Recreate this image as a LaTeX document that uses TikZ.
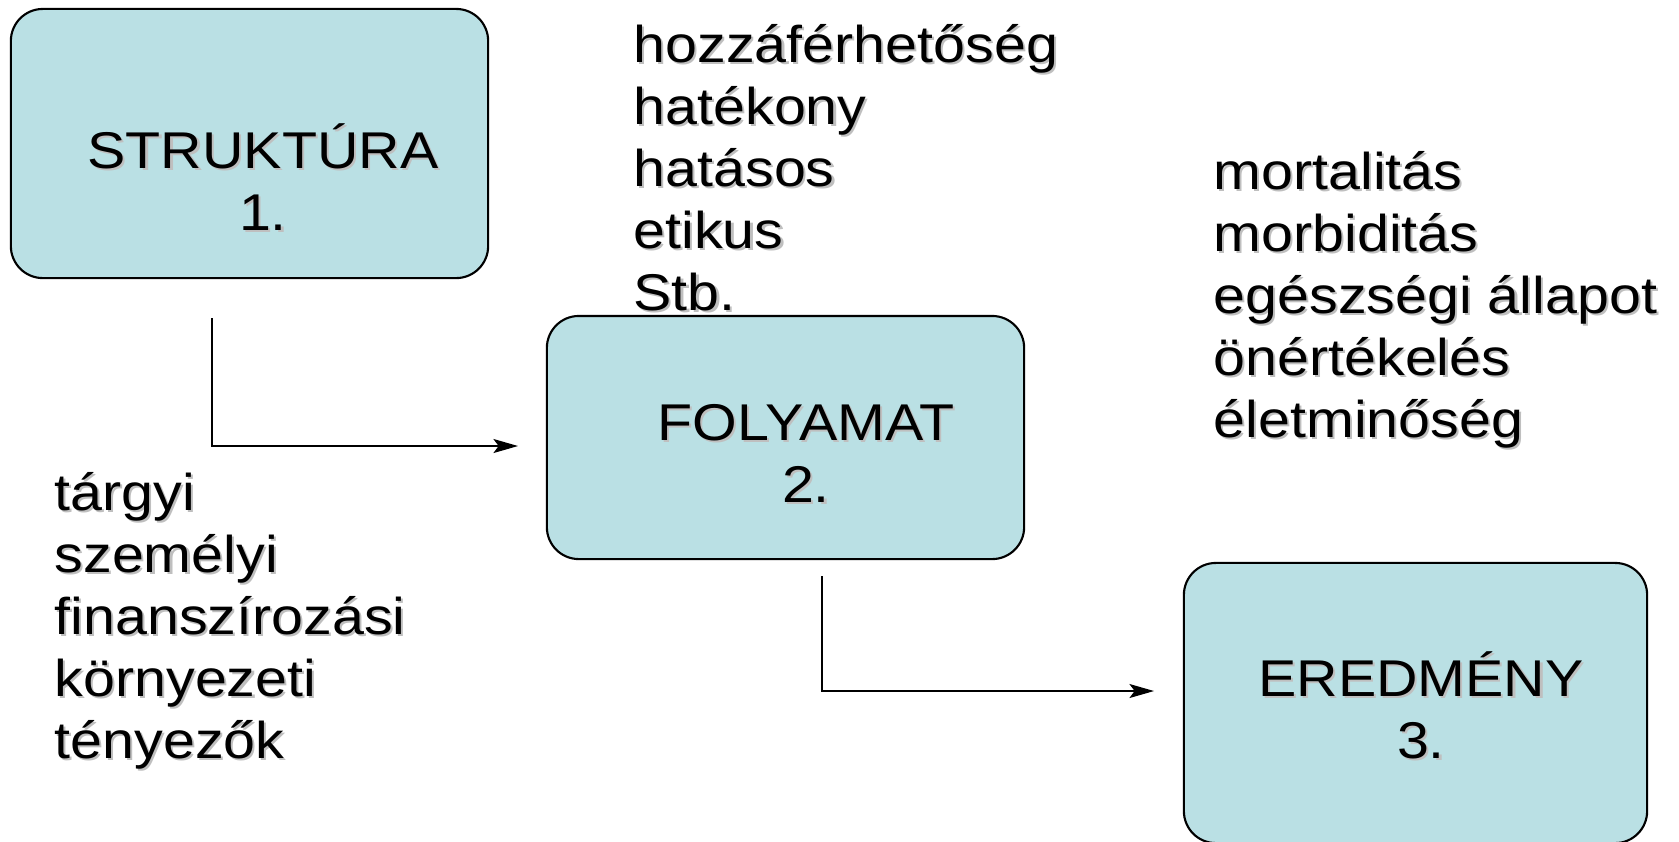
\documentclass[tikz,border=0pt]{standalone}
\usepackage{fontspec}
\setmainfont{Liberation Sans}[FakeStretch=1.11]
\usetikzlibrary{arrows.meta}

\definecolor{boxfill}{RGB}{186,224,228}
% text with a light drop shadow
\newcommand\shd[1]{\leavevmode\rlap{\kern0.6pt\raisebox{-0.6pt}{\textcolor{black!25}{#1}}}#1}

\begin{document}
\begin{tikzpicture}[
x=0.01cm, y=-0.01cm,
>={Stealth[length=7pt,width=4pt,inset=1.5pt]},
font=\fontsize{14.7pt}{17.6pt}\selectfont,
box/.style={%
    rectangle,
    rounded corners=3.2mm,
    draw=black,
    line width=0.6pt,
    fill=boxfill,
    inner sep=0pt,
},
boxtext/.style={%
    align=center,inner sep=0pt,anchor=base,
},
list/.style={%
    align=left,inner sep=0pt,anchor=base west,
},
link/.style={->,line width=0.4pt,black},
]
\useasboundingbox (0,0) rectangle (1679,841);

% Boxes (text nodes sit on their last baseline)
\node[box,minimum width=4.77cm,minimum height=2.69cm] at (249.5,143.5) (struktura) {};
\node[boxtext]  at (263,230)    (strukturatext)     {\shd{STRUKTÚRA}\\\shd{1.}};

\node[box,minimum width=4.77cm,minimum height=2.43cm] at (785.5,437.5) (folyamat) {};
\node[boxtext]  at (806,502)    (folyamattext)      {\shd{FOLYAMAT}\\\shd{2.}};

\node[box,minimum width=4.63cm,minimum height=2.80cm] at (1415.5,703) (eredmeny) {};
\node[boxtext]  at (1421,758)   (eredmenytext)      {\shd{EREDMÉNY}\\\shd{3.}};

% Lists
\node[list]     at (633,310)    (folyamatlist)      {\shd{hozzáférhetőség}\\\shd{hatékony}\\\shd{hatásos}\\\shd{etikus}\\\shd{Stb.}};
\node[list]     at (1213,437)   (eredmenylist)      {\shd{mortalitás}\\\shd{morbiditás}\\\shd{egészségi állapot}\\\shd{önértékelés}\\\shd{életminőség}};
\node[list]     at (54,758)     (strukturalist)     {\shd{tárgyi}\\\shd{személyi}\\\shd{finanszírozási}\\\shd{környezeti}\\\shd{tényezők}};

% Lines
\coordinate (strukturaout) at (212,318);
\coordinate (folyamatin)   at (518,446);
\coordinate (folyamatout)  at (822,576);
\coordinate (eredmenyin)   at (1154,691);

\draw[link] (strukturaout) |- (folyamatin);
\draw[link] (folyamatout) |- (eredmenyin);
\end{tikzpicture}
\end{document}
